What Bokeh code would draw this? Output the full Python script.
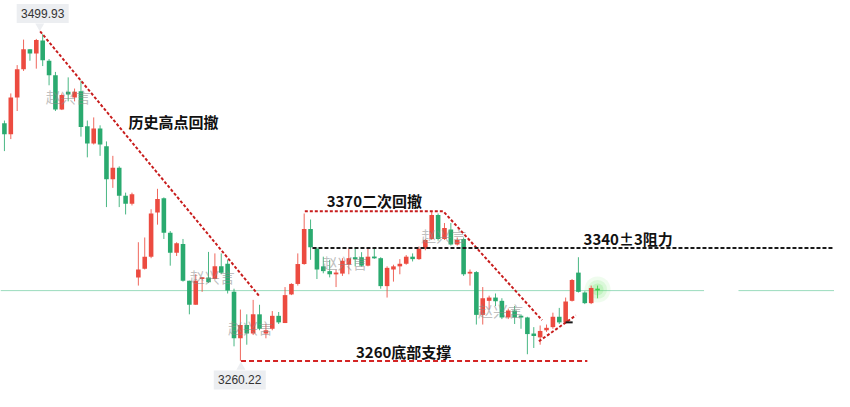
from bokeh.plotting import figure
from bokeh.models import ColumnDataSource, Range1d
from bokeh.core.properties import value
from bokeh.embed import file_html
from bokeh.resources import INLINE

# ---------------- data ----------------
opens = [3434.6, 3426.4, 3453.4, 3474.1, 3488.9, 3485.8, 3495.2, 3480.4, 3469.8, 3444.7,
         3457.6, 3453.4, 3458.1, 3432.3, 3419.6, 3430.6, 3417.7, 3393.5, 3401.9, 3381.3,
         3375.4, 3321.4, 3327.7, 3336.6, 3369.0, 3379.4, 3354.2, 3339.4, 3346.0, 3319.0,
         3301.3, 3320.2, 3321.4, 3320.2, 3329.5, 3331.4, 3310.8, 3276.7, 3286.5, 3280.2,
         3294.3, 3280.2, 3283.7, 3293.2, 3287.9, 3308.9, 3316.6, 3331.2, 3357.0, 3342.5,
         3329.5, 3326.0, 3323.7, 3324.2, 3330.7, 3336.2, 3336.2, 3330.0, 3336.6, 3335.5,
         3315.0, 3327.2, 3329.5, 3331.4, 3336.6, 3334.8, 3342.5, 3349.6, 3367.2, 3349.6,
         3356.6, 3345.5, 3349.6, 3324.4, 3325.3, 3293.9, 3304.2, 3306.6, 3304.2, 3292.0,
         3297.1, 3293.2, 3292.0, 3280.2, 3277.4, 3282.6, 3284.9, 3292.5, 3288.4, 3304.2,
         3324.9, 3310.3, 3302.5, 3313.1]
highs = [3436.5, 3456.4, 3477.2, 3495.9, 3488.9, 3496.4, 3499.93, 3481.6, 3472.2, 3456.4,
         3468.2, 3460.0, 3465.9, 3436.5, 3438.8, 3433.0, 3421.2, 3410.6, 3402.9, 3383.6,
         3383.6, 3347.2, 3350.7, 3371.4, 3386.4, 3380.1, 3355.4, 3347.2, 3349.6, 3319.0,
         3323.7, 3321.4, 3340.1, 3339.0, 3339.0, 3334.3, 3313.1, 3297.8, 3294.3, 3304.9,
         3301.3, 3287.2, 3296.7, 3296.0, 3314.3, 3317.1, 3339.0, 3368.3, 3363.9, 3343.6,
         3336.6, 3334.3, 3327.2, 3335.5, 3342.5, 3342.5, 3339.9, 3343.6, 3343.6, 3336.2,
         3329.5, 3330.7, 3334.8, 3337.8, 3339.0, 3344.1, 3349.6, 3369.5, 3368.3, 3361.3,
         3361.3, 3350.7, 3350.7, 3327.2, 3326.0, 3314.3, 3308.0, 3309.6, 3306.1, 3298.5,
         3300.4, 3294.3, 3292.5, 3284.9, 3286.1, 3286.8, 3295.5, 3299.0, 3306.6, 3320.2,
         3336.2, 3311.2, 3315.4, 3315.4]
lows = [3414.1, 3422.9, 3443.5, 3472.9, 3480.4, 3474.6, 3476.5, 3462.4, 3443.5, 3444.2,
        3450.6, 3450.6, 3424.7, 3409.5, 3418.9, 3410.6, 3373.0, 3387.1, 3373.0, 3367.6,
        3374.2, 3315.4, 3327.2, 3335.5, 3360.1, 3349.6, 3330.0, 3337.1, 3318.3, 3294.3,
        3301.3, 3310.8, 3317.3, 3319.7, 3323.7, 3309.6, 3270.8, 3260.22, 3272.0, 3279.1,
        3282.6, 3276.7, 3282.6, 3287.2, 3287.9, 3308.4, 3315.4, 3330.7, 3334.3, 3320.2,
        3324.4, 3321.4, 3314.3, 3322.5, 3323.7, 3329.5, 3329.3, 3329.5, 3335.0, 3313.1,
        3306.6, 3318.3, 3323.7, 3330.7, 3333.1, 3334.3, 3341.3, 3348.9, 3348.4, 3348.9,
        3344.8, 3344.8, 3322.5, 3315.4, 3286.8, 3286.8, 3297.8, 3300.4, 3290.8, 3290.8,
        3287.2, 3283.7, 3265.0, 3269.6, 3272.0, 3281.4, 3283.7, 3287.2, 3287.7, 3303.7,
        3310.3, 3301.8, 3301.8, 3306.1]
closes = [3426.4, 3453.4, 3474.1, 3488.9, 3485.8, 3495.7, 3480.7, 3469.8, 3444.7, 3455.3,
          3455.7, 3457.6, 3431.8, 3419.6, 3430.6, 3418.9, 3393.5, 3401.9, 3381.3, 3375.4,
          3382.4, 3327.2, 3336.6, 3368.3, 3378.9, 3354.2, 3339.4, 3346.5, 3319.0, 3301.3,
          3319.0, 3321.4, 3317.8, 3329.5, 3324.9, 3311.7, 3276.7, 3286.5, 3280.2, 3294.3,
          3283.7, 3282.6, 3293.2, 3288.4, 3308.4, 3316.6, 3331.2, 3357.0, 3343.6, 3327.2,
          3326.0, 3323.7, 3324.9, 3333.6, 3335.5, 3334.8, 3330.0, 3336.6, 3335.5, 3315.0,
          3328.4, 3329.5, 3331.4, 3336.6, 3334.8, 3342.5, 3348.9, 3367.2, 3349.6, 3357.7,
          3345.5, 3348.9, 3323.7, 3325.3, 3293.9, 3306.1, 3306.6, 3303.9, 3292.0, 3297.1,
          3292.0, 3292.0, 3279.8, 3278.4, 3282.1, 3284.4, 3292.5, 3288.4, 3303.7, 3319.5,
          3310.8, 3302.5, 3313.6, 3311.9]

high_label = "3499.93"
low_label = "3260.22"
last_price = 3311.7

# annotation levels (index, price)
trend1_x = [5.6, 39.9]
trend1_y = [3502.0, 3308.0]
level3370_x = [47.1, 68.8, 84.3]
level3370_y = [3370.0, 3370.0, 3290.0]
level3343_x = [48.3, 130.2]
level3343_y = [3343.0, 3343.0]
level3260_x = [37.1, 91.4]
level3260_y = [3260.0, 3260.0]
support_x = [83.8, 89.6]
support_y = [3274.5, 3293.5]

ann_texts = ["历史高点回撤", "3370二次回撤", "3340±3阻力", "3260底部支撑"]
ann_x = [26.5, 58.0, 97.8, 62.6]
ann_y = [3435.8, 3377.8, 3350.3, 3267.2]

wm_x = [10.0, 32.6, 38.6, 53.4, 68.9, 77.8]
wm_y = [3454.1, 3322.3, 3284.9, 3332.1, 3351.9, 3296.9]

# ---------------- build ----------------
RED = "#ec4b40"
GREEN = "#2aaa6f"
n = len(opens)
idx = list(range(n))
colors = []
for i in idx:
    c = RED if closes[i] >= opens[i] else GREEN
    colors.append(c)
colors[-1] = "#3fcf4f"
tops = [max(o, c) for o, c in zip(opens, closes)]
bots = [min(o, c) for o, c in zip(opens, closes)]
# minimum visible body
for i in idx:
    if tops[i] - bots[i] < 1.3:
        mid = (tops[i] + bots[i]) / 2
        tops[i] = mid + 0.65
        bots[i] = mid - 0.65

src = ColumnDataSource(dict(x=idx, top=tops, bottom=bots, high=highs, low=lows, color=colors))

p = figure(width=834, height=391, output_backend="svg", toolbar_location=None,
           x_range=Range1d(-0.615, 130.154), y_range=Range1d(3237.66, 3524.61),
           x_axis_location=None, y_axis_location=None, min_border=0)
p.grid.visible = False
p.outline_line_color = None
p.background_fill_color = "white"
p.border_fill_color = "white"

# current price line (with gap)
p.segment(x0=[-0.615, 115.1], x1=[109.7, 130.154], y0=[last_price] * 2, y1=[last_price] * 2,
          line_color="#9adbbd", line_width=1)

# glow on last candle
p.scatter(x=[idx[-1]] * 3, y=[closes[-1] + 0.6] * 3, size=[26, 19, 12], marker="circle",
          fill_color="#5fe05a", fill_alpha=[0.10, 0.14, 0.2], line_color=None)

# candles
p.segment(x0="x", x1="x", y0="low", y1="high", source=src, line_color="color", line_width=1, line_alpha=0.85)
p.vbar(x="x", width=0.72, top="top", bottom="bottom", source=src, fill_color="color", line_color=None)

# watermarks
p.text(x=wm_x, y=wm_y, text=["赵兴言"] * len(wm_x), text_font=value("Noto Sans CJK SC"),
       text_font_size="15px", text_color="#8a8a8a", text_alpha=0.55, text_align="center",
       text_baseline="middle")

# annotation lines
DR = "#c81d1d"
p.line(trend1_x, trend1_y, line_color=DR, line_width=2, line_dash="3 2")
p.line(level3370_x, level3370_y, line_color=DR, line_width=2, line_dash="3 2")
p.line(level3343_x, level3343_y, line_color="#1a1a1a", line_width=2, line_dash="4 2")
p.line(level3260_x, level3260_y, line_color="#d42424", line_width=2, line_dash="5 3")
p.line(support_x, support_y, line_color=DR, line_width=2, line_dash="3 2")
p.segment(x0=[88.0], x1=[89.1], y0=[3288.4], y1=[3288.4], line_color="#1a1a1a", line_width=2)

# annotation texts
p.text(x=ann_x, y=ann_y, text=ann_texts, text_font=value("Noto Sans CJK SC"),
       text_font_size="15px", text_font_style="bold", text_color="#111111",
       text_align="center", text_baseline="middle")

# price tags for high / low
tag_x = [6.0, 36.9]
tag_y = [3515.1, 3246.1]
p.rect(x=tag_x, y=tag_y, width=52, height=19, width_units="screen", height_units="screen",
       fill_color="#eceef1", line_color=None)
p.scatter(x=[5.54], y=[3505.8], marker="inverted_triangle", size=9,
          fill_color="#eceef1", line_color=None)
p.scatter(x=[37.08], y=[3255.6], marker="triangle", size=9,
          fill_color="#eceef1", line_color=None)
p.text(x=tag_x, y=tag_y, text=[high_label, low_label], text_font=value("Liberation Sans"),
       text_font_size="12px", text_color="#333333", text_align="center", text_baseline="middle")

open("out.html", "w").write(file_html(p, INLINE))
